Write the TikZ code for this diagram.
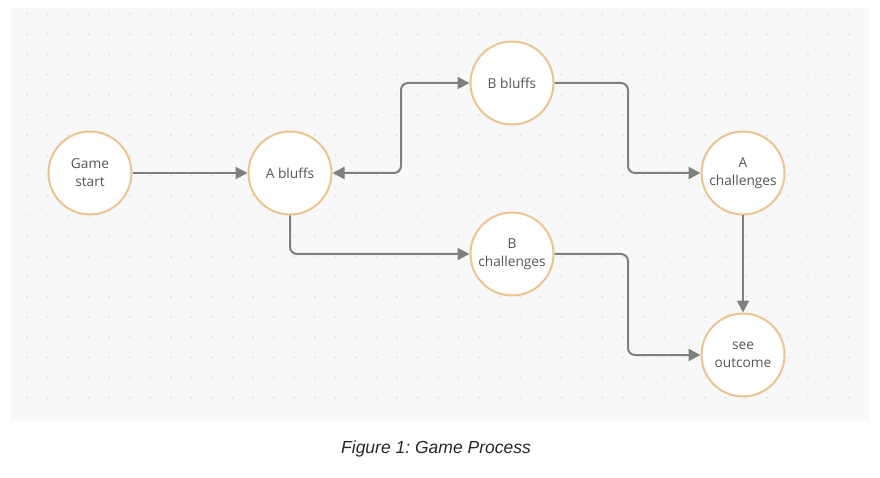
\documentclass[tikz,border=0pt]{standalone}
\usepackage{fontspec}
\setmainfont{Open Sans}
\newfontfamily\capfont{Liberation Sans}
\usetikzlibrary{arrows.meta}
\definecolor{panelbg}{HTML}{F8F8FA}
\definecolor{griddot}{HTML}{DEDEE2}
\definecolor{ringcol}{HTML}{EBC491}
\definecolor{wirecol}{HTML}{7F7F80}
\definecolor{labelcol}{HTML}{555555}
\tikzset{
  state/.style={shape=circle, draw=ringcol, fill=white, line width=2pt, inner sep=0,
    minimum size=83pt, align=center, text=labelcol, font=\fontsize{13.7}{18}\selectfont},
  wire/.style={draw=wirecol, line width=2pt, rounded corners=7pt, ->},
}
\frenchspacing
\begin{document}
\begin{tikzpicture}[x=1pt, y=-1pt, >={Triangle[length=12pt,width=12pt]}]
          \useasboundingbox (0,0) rectangle (880,478);
          % Paths, nodes and wires:
          \fill[panelbg] (10,8) rectangle (869,421);
          \foreach \i in {0,...,40}
            \foreach \j in {0,...,19}
              \fill[griddot] (27+20.55*\i, 14+20.2*\j) circle[radius=1pt];
          \node[state] (gs) at (90, 173){Game\\start};
          \node[state] (ab) at (290, 173){A bluffs};
          \node[state] (bb) at (512, 83){B bluffs};
          \node[state] (ac) at (743, 173){A\\challenges};
          \node[state] (bc) at (512, 254){B\\challenges};
          \node[state] (so) at (743, 355){see\\outcome};
          \coordinate (ja) at (401, 173);
          \coordinate (jb) at (628, 173);
          \coordinate (jc) at (628, 355);
          \draw[wire] (gs) -- (ab);
          \draw[wire, <->] (bb.west) -| (ja) -- (ab.east);
          \draw[wire] (ab.south) |- (bc.west);
          \draw[wire] (bb.east) -| (jb) -- (ac.west);
          \draw[wire] (bc.east) -| (jc) -- (so.west);
          \draw[wire] (ac) -- (so);
          \node[font=\capfont\itshape\fontsize{17.5}{20}\selectfont, text=black!85] (cap) at (436, 449){Figure 1: Game Process};
        \end{tikzpicture}
\end{document}
